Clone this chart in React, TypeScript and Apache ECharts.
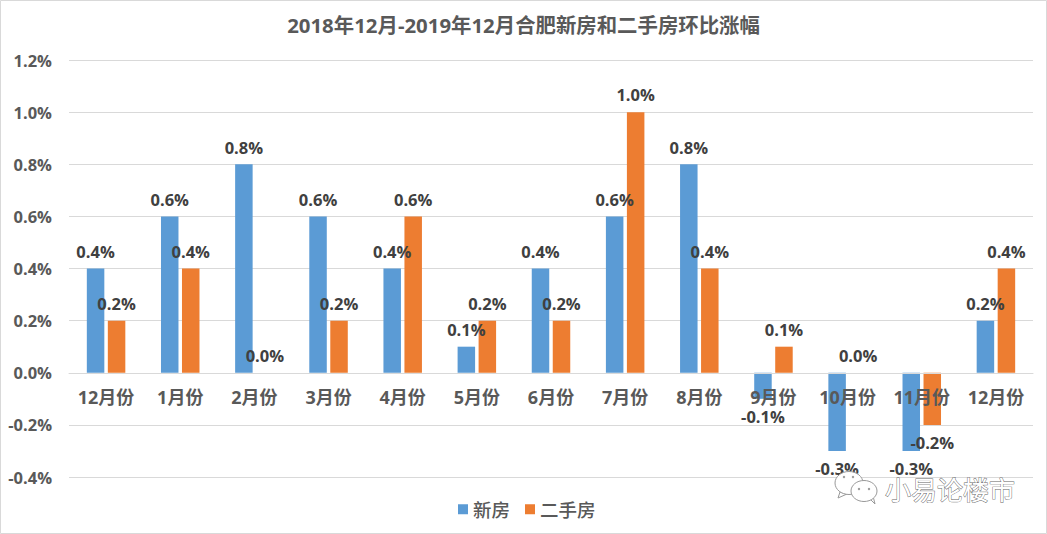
import React, { useEffect, useRef } from "react";
import * as echarts from "echarts";

const categories = ["12月份","1月份","2月份","3月份","4月份","5月份","6月份","7月份","8月份","9月份","10月份","11月份","12月份"];
const newHome = [0.4,0.6,0.8,0.6,0.4,0.1,0.4,0.6,0.8,-0.1,-0.3,-0.3,0.2];
const resale = [0.2,0.4,0.0,0.2,0.6,0.2,0.2,1.0,0.4,0.1,0.0,-0.2,0.4];
const titleText = "2018年12月-2019年12月合肥新房和二手房环比涨幅";
const watermark = "小易论楼市";
const FONT = '"Open Sans","Noto Sans CJK SC",sans-serif';

export default function App() {
  const ref = useRef<HTMLDivElement>(null);
  useEffect(() => {
    const chart = echarts.init(ref.current!, null, { renderer: "svg" });
    const label = {
      show: true,
      position: "outside" as const,
      distance: 9,
      formatter: (p: any) => p.value.toFixed(1) + "%",
      color: "#404040",
      fontFamily: FONT,
      fontWeight: 700,
      fontSize: 16.5,
    };
    const withZeroUp = (vals: number[]) =>
      vals.map((v) => (v === 0 ? { value: v, label: { position: "top" as const, distance: 9 } } : v));
    const bubble = (cx: number, cy: number, rx: number, ry: number, tail: number[][]) => [
      { type: "polygon", silent: true, z: 20, shape: { points: tail }, style: { fill: "#fff", stroke: "#999", lineWidth: 1 } },
      { type: "ellipse", silent: true, z: 20, shape: { cx, cy, rx, ry }, style: { fill: "#fff", stroke: "#999", lineWidth: 1 } },
    ];
    chart.setOption({
      animation: false,
      backgroundColor: "#fff",
      title: {
        text: titleText,
        left: 518.5,
        top: 10,
        textAlign: "center",
        textStyle: { color: "#595959", fontFamily: FONT, fontWeight: 700, fontSize: 20.4 },
      },
      legend: {
        data: ["新房", "二手房"],
        left: 453,
        top: 495,
        itemWidth: 10,
        itemHeight: 10,
        itemGap: 15,
        icon: "rect",
        textStyle: { color: "#595959", fontFamily: FONT, fontWeight: 500, fontSize: 18.5 },
      },
      grid: { left: 69, right: 14, top: 60, bottom: 57 },
      xAxis: {
        type: "category",
        data: categories,
        z: 10,
        axisTick: { show: false },
        axisLine: { lineStyle: { color: "#d9d9d9" } },
        axisLabel: {
          color: "#595959", fontFamily: FONT, fontWeight: 700, fontSize: 18, margin: -89, interval: 0,
        },
      },
      yAxis: {
        type: "value",
        min: -0.4,
        max: 1.2,
        interval: 0.2,
        axisLine: { show: false },
        axisTick: { show: false },
        splitLine: { lineStyle: { color: "#d9d9d9" } },
        axisLabel: {
          color: "#595959", fontFamily: FONT, fontWeight: 700, fontSize: 16.5, margin: 17,
          formatter: (v: number) => v.toFixed(1) + "%",
        },
      },
      series: [
        { name: "新房", type: "bar", data: withZeroUp(newHome), barWidth: 17.5, barGap: "20%", itemStyle: { color: "#5b9bd5" }, label },
        { name: "二手房", type: "bar", data: withZeroUp(resale), barWidth: 17.5, barGap: "20%", itemStyle: { color: "#ed7d31" }, label },
      ],
      graphic: [
        { type: "rect", silent: true, z: 30, shape: { x: 0.5, y: 0.5, width: 1046, height: 533 }, style: { fill: "none", stroke: "#d9d9d9", lineWidth: 1 } },
        ...bubble(849, 483, 14, 11.5, [[840, 492], [838, 498], [847, 494]]),
        ...bubble(864, 491, 13, 10.5, [[870, 499], [875, 504], [873, 496]]),
        { type: "circle", silent: true, z: 21, shape: { cx: 844, cy: 477, r: 1.2 }, style: { fill: "#999" } },
        { type: "circle", silent: true, z: 21, shape: { cx: 853, cy: 477, r: 1.2 }, style: { fill: "#999" } },
        { type: "circle", silent: true, z: 21, shape: { cx: 859, cy: 489, r: 1.2 }, style: { fill: "#999" } },
        { type: "circle", silent: true, z: 21, shape: { cx: 869, cy: 489, r: 1.2 }, style: { fill: "#999" } },
        {
          type: "text", silent: true, z: 21, x: 885, y: 488,
          style: {
            text: watermark, fill: "#fff", stroke: "#666", lineWidth: 0.9,
            font: '400 26px "Noto Sans CJK SC",sans-serif', textVerticalAlign: "middle",
          },
        },
      ],
    });
    return () => chart.dispose();
  }, []);
  return <div ref={ref} style={{ position: "absolute", left: 0, top: 0, width: 1047, height: 534 }} />;
}
